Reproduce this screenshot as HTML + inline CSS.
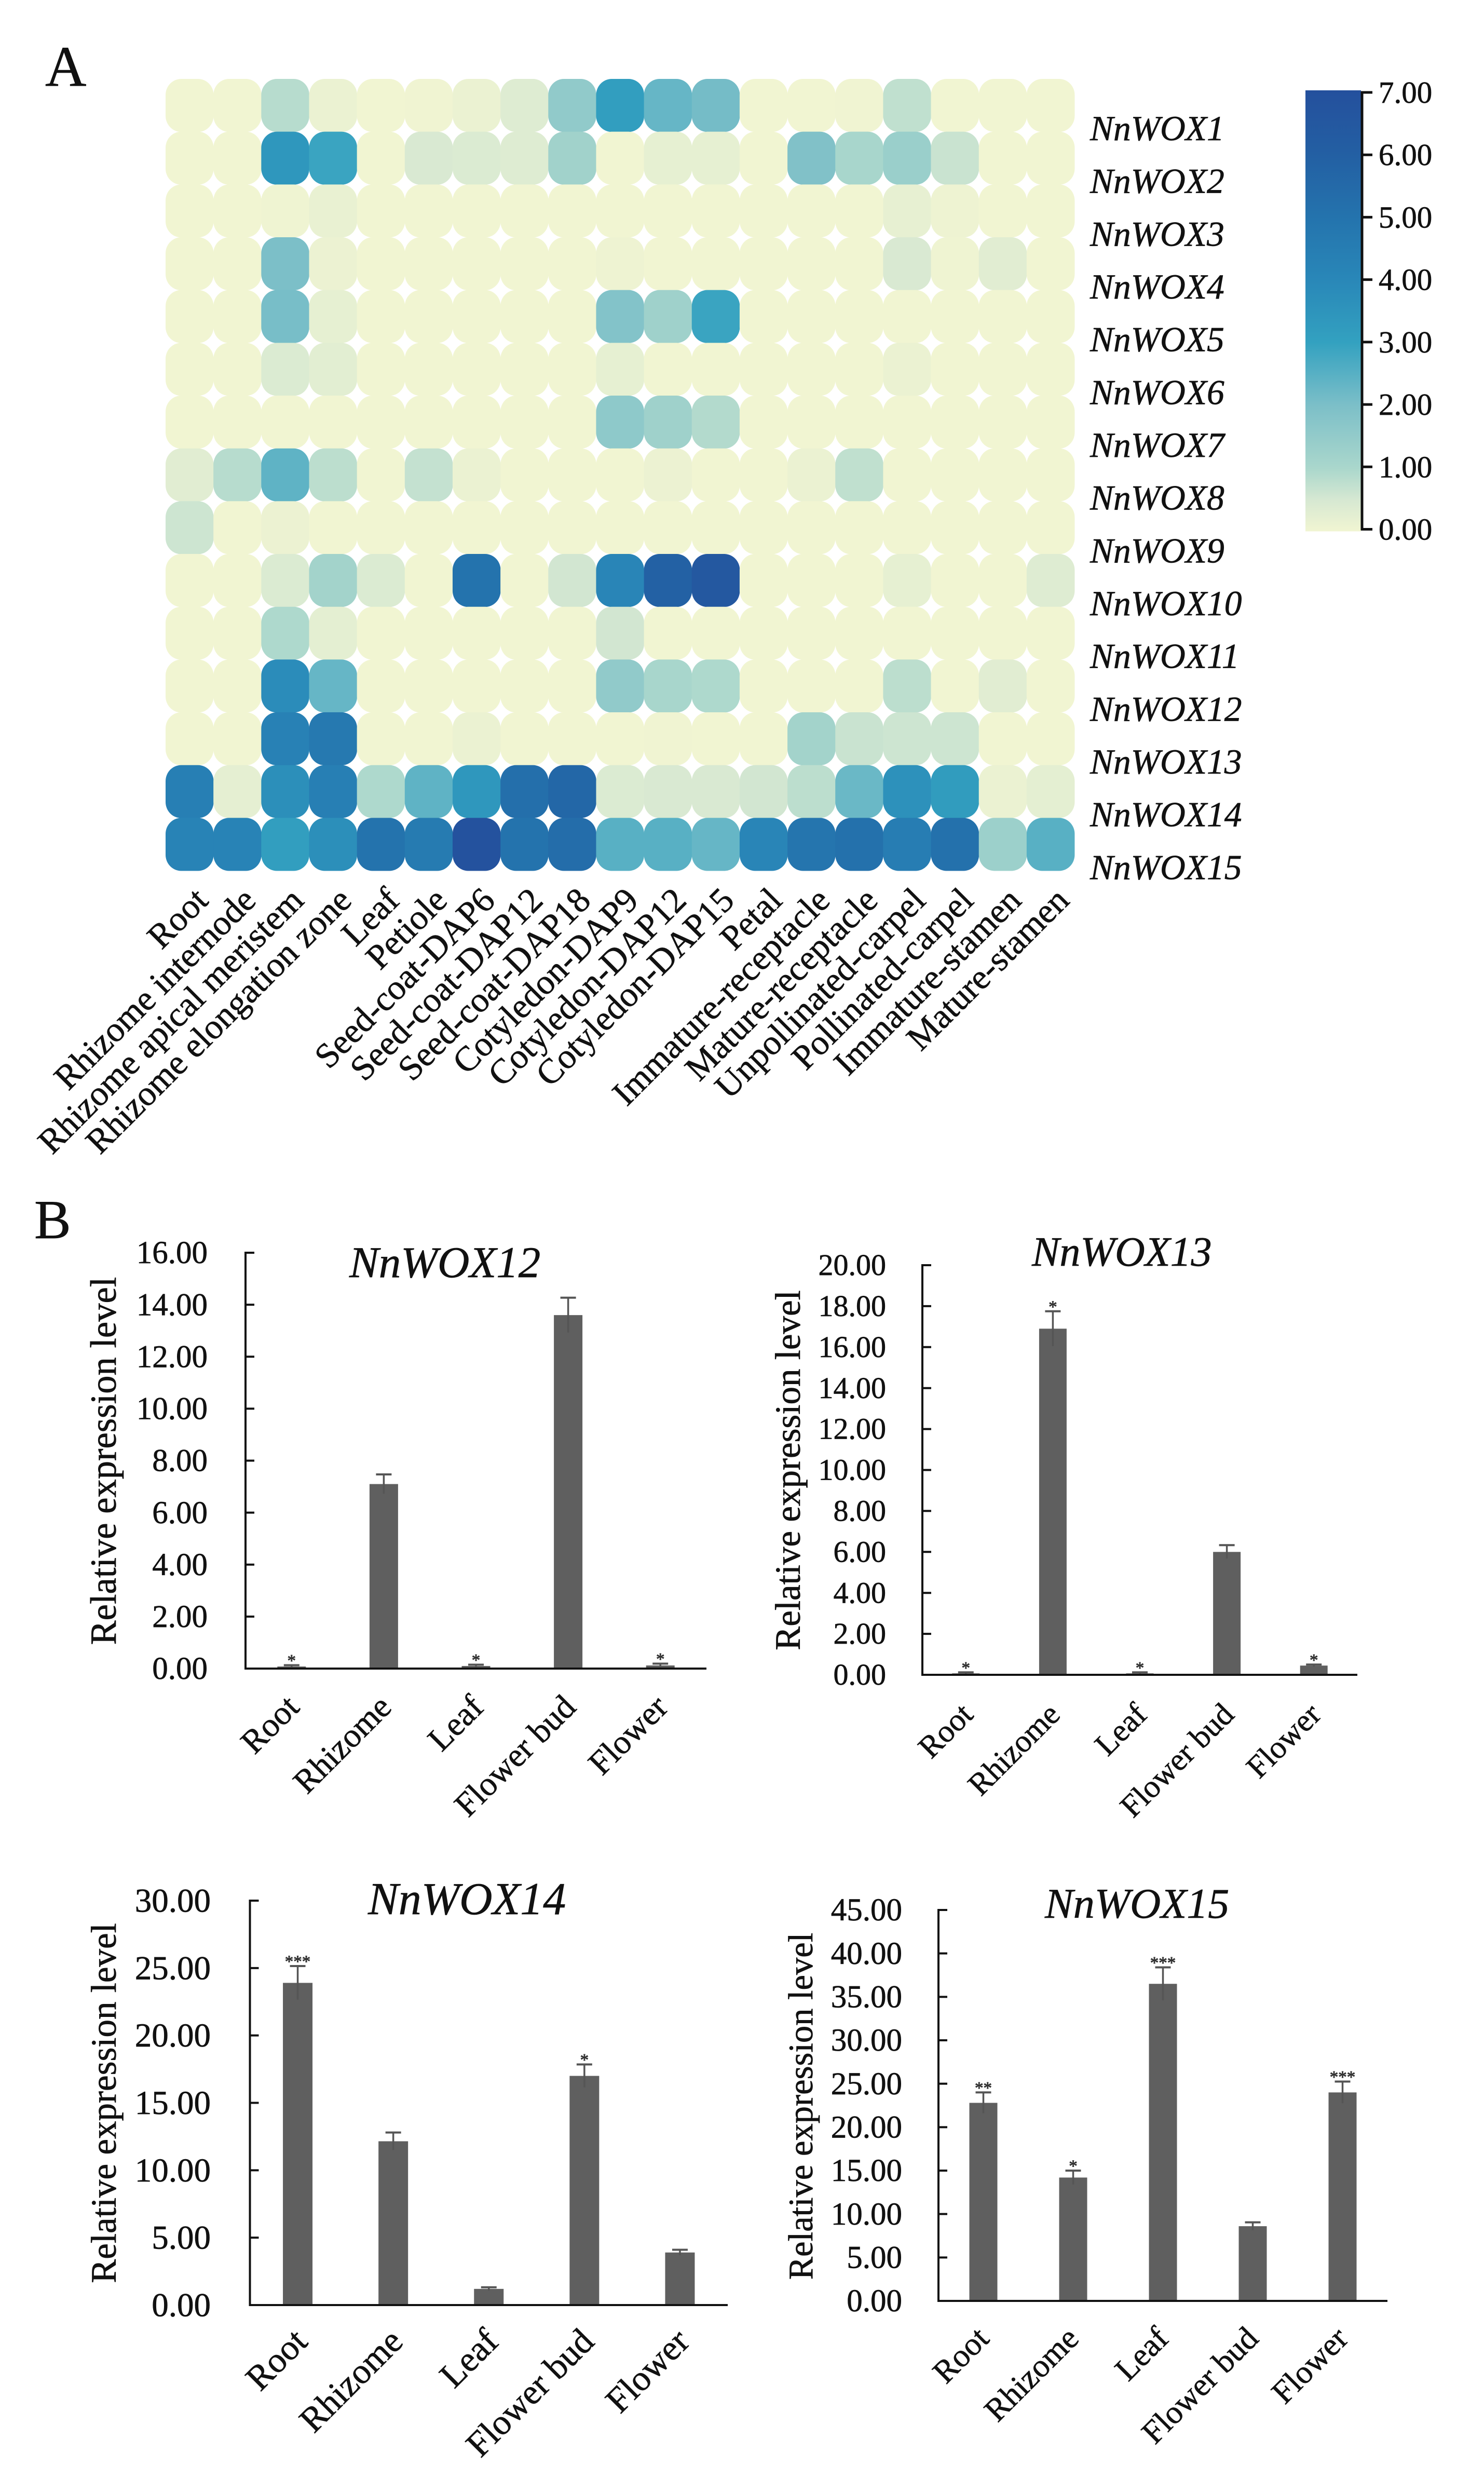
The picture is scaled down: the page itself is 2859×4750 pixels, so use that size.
<!DOCTYPE html>
<html lang="en">
<head>
<meta charset="utf-8">
<title>NnWOX expression heatmap and qPCR charts</title>
<style>
html,body{margin:0;padding:0;background:#fff;}
svg{display:block;}
text{font-family:"Liberation Serif","Times New Roman",serif;fill:#111;stroke:#111;stroke-width:0.7px;}
</style>
</head>
<body>
<svg id="figure" xmlns="http://www.w3.org/2000/svg" width="2859" height="4750" viewBox="0 0 2859 4750">
  <rect x="0" y="0" width="2859" height="4750" fill="#ffffff"/>
  <text x="87" y="165" font-size="110">A</text>
  <text x="66" y="2385" font-size="106">B</text>
  <defs id="defs"></defs>
</svg>
<script>
// ---------- Heatmap data ----------
const tissues = ["Root","Rhizome internode","Rhizome apical meristem","Rhizome elongation zone","Leaf","Petiole","Seed-coat-DAP6","Seed-coat-DAP12","Seed-coat-DAP18","Cotyledon-DAP9","Cotyledon-DAP12","Cotyledon-DAP15","Petal","Immature-receptacle","Mature-receptacle","Unpollinated-carpel","Pollinated-carpel","Immature-stamen","Mature-stamen"];
const genes = ["NnWOX1","NnWOX2","NnWOX3","NnWOX4","NnWOX5","NnWOX6","NnWOX7","NnWOX8","NnWOX9","NnWOX10","NnWOX11","NnWOX12","NnWOX13","NnWOX14","NnWOX15"];
const heatValues = [
  [0,0,0.85,0.12,0,0.02,0.12,0.35,1.55,3.1,2.3,2.1,0,0,0.02,0.75,0,0,0],
  [0,0,3.4,2.9,0,0.45,0.4,0.35,1.2,0,0.2,0.2,0,1.9,1.05,1.35,0.65,0,0],
  [0,0,0.03,0.15,0,0,0,0,0,0,0,0,0,0,0,0.18,0.06,0,0],
  [0,0,2.0,0.1,0,0,0,0,0,0.06,0,0,0,0,0,0.45,0.03,0.3,0],
  [0,0,2.05,0.2,0,0,0,0,0,1.85,1.25,2.9,0,0,0,0,0,0,0],
  [0,0,0.4,0.28,0,0,0,0,0,0.2,0,0,0,0,0,0.12,0,0,0],
  [0,0,0,0,0,0,0,0,0,1.6,1.25,0.9,0,0,0,0,0,0,0],
  [0.3,0.85,2.4,0.8,0,0.7,0.12,0,0,0,0.1,0,0,0.12,0.75,0,0,0,0],
  [0.6,0,0.1,0,0,0,0,0,0,0,0,0,0,0,0,0,0,0,0],
  [0,0,0.4,1.15,0.4,0,5.0,0,0.55,4.1,5.9,6.5,0,0,0,0.2,0,0,0.35],
  [0,0,0.95,0.25,0,0,0,0,0,0.55,0,0,0,0,0,0,0,0,0],
  [0,0,3.8,2.3,0,0,0,0,0,1.55,1.05,0.95,0,0,0,0.8,0,0.3,0],
  [0,0,4.3,4.7,0,0,0.12,0,0,0,0.02,0,0,1.15,0.65,0.6,0.6,0,0],
  [4.4,0.22,3.7,4.4,0.95,2.4,3.4,5.2,5.6,0.4,0.45,0.45,0.55,0.8,2.25,3.6,3.2,0.12,0.25],
  [4.2,4.2,3.1,3.7,5.0,4.6,6.9,5.0,5.3,2.5,2.5,2.3,4.1,4.9,5.1,4.5,5.1,1.3,2.5]
];
const scaleStops = [0,0.5,1,2,3,4,5,6,7];
const scaleColors = ["#f1f5d2","#d6e8d2","#aad7cc","#7cbfc8","#33a1c0","#2987b8","#2473ad","#235fa3","#24509d"];
const scaleTicks = [0,1,2,3,4,5,6,7];
const scaleTickLabels = ["0.00","1.00","2.00","3.00","4.00","5.00","6.00","7.00"];

// ---------- Bar chart data ----------
const barCategories = ["Root","Rhizome","Leaf","Flower bud","Flower"];

const wox12Values = [0.08,7.1,0.1,13.6,0.12];
const wox12Errors = [0.05,0.37,0.05,0.67,0.07];
const wox12Stars = ["*","","*","","*"];
const wox12Ticks = ["0.00","2.00","4.00","6.00","8.00","10.00","12.00","14.00","16.00"];

const wox13Values = [0.07,16.9,0.07,6.0,0.45];
const wox13Errors = [0.05,0.85,0.05,0.33,0.05];
const wox13Stars = ["*","*","*","","*"];
const wox13Ticks = ["0.00","2.00","4.00","6.00","8.00","10.00","12.00","14.00","16.00","18.00","20.00"];

const wox14Values = [23.9,12.15,1.2,17.0,3.9];
const wox14Errors = [1.25,0.65,0.12,0.85,0.2];
const wox14Stars = ["***","","","*",""];
const wox14Ticks = ["0.00","5.00","10.00","15.00","20.00","25.00","30.00"];

const wox15Values = [22.8,14.2,36.5,8.6,24.0];
const wox15Errors = [1.2,0.8,1.9,0.45,1.25];
const wox15Stars = ["**","*","***","","***"];
const wox15Ticks = ["0.00","5.00","10.00","15.00","20.00","25.00","30.00","35.00","40.00","45.00"];

// ---------- Helpers ----------
const NS = "http://www.w3.org/2000/svg";
const root = document.getElementById("figure");
function mk(tag, attrs, parent) {
  const el = document.createElementNS(NS, tag);
  for (const k in attrs) el.setAttribute(k, attrs[k]);
  (parent || root).appendChild(el);
  return el;
}
function hexToRgb(h) {
  return [parseInt(h.slice(1,3),16),parseInt(h.slice(3,5),16),parseInt(h.slice(5,7),16)];
}
function colorFor(v) {
  const t = Math.max(scaleStops[0], Math.min(scaleStops[scaleStops.length-1], v));
  let i = 0;
  while (i < scaleStops.length-2 && t > scaleStops[i+1]) i++;
  const f = (t - scaleStops[i]) / (scaleStops[i+1] - scaleStops[i]);
  const a = hexToRgb(scaleColors[i]), b = hexToRgb(scaleColors[i+1]);
  return "rgb(" + a.map((c,j)=>Math.round(c + (b[j]-c)*f)).join(",") + ")";
}

// ---------- Heatmap ----------
(function drawHeatmap() {
  const left = 319, top = 152, colW = 92.16, rowH = 101.67;
  const xPos = c => left + c * colW;
  const yPos = r => top + r * rowH;
  const g = mk("g", {});
  
  
  heatValues.forEach((row, r) => {
    row.forEach((v, c) => {
      const cell = mk("rect", {x:xPos(c), y:yPos(r), width:colW+0.4, height:rowH+0.4, rx:30, ry:31, fill:colorFor(v)}, g);
      
      
    });
  });
  genes.forEach((name, r) => {
    const t = mk("text", {x:2100, y:yPos(r)+118, "font-size":67.5, "font-style":"italic"});
    t.textContent = name;
    
    
  });
  tissues.forEach((name, c) => {
    const X = xPos(c) + colW/2 + 39, Y = 1738;
    const t = mk("text", {x:X, y:Y, "font-size":67.5, "text-anchor":"end", transform:"rotate(-45 "+X+" "+Y+")"});
    t.textContent = name;
    
    
  });
})();

// ---------- Color scale ----------
(function drawScale() {
  const barX = 2515, barW = 107, yZero = 1019.5, yTop = 178;
  const yOf = v => yZero - (v / 7) * (yZero - yTop);
  const defs = document.getElementById("defs");
  const grad = mk("linearGradient", {id:"scaleGrad", x1:0, y1:1, x2:0, y2:0}, defs);
  scaleStops.forEach((s, i) => {
    mk("stop", {offset:(s/7), "stop-color":scaleColors[i]}, grad);
  });
  const bar = mk("rect", {x:barX, y:yTop-4, width:barW, height:yZero-yTop+8, fill:"url(#scaleGrad)"});
  
  
  const axis = mk("line", {x1:barX+barW+2, x2:barX+barW+2, y1:yTop-2, y2:yZero+2, stroke:"#111", "stroke-width":5});
  
  
  scaleTicks.forEach((v, i) => {
    const y = yOf(v);
    const tick = mk("line", {x1:barX+barW, x2:2644, y1:y, y2:y, stroke:"#111", "stroke-width":5});
    
    
    const t = mk("text", {x:2656, y:y+20, "font-size":59});
    t.textContent = scaleTickLabels[i];
    
    
  });
})();

// ---------- Bar charts ----------
function drawBars(o) {
  const maxV = parseFloat(o.ticks[o.ticks.length-1]);
  const yOf = v => o.y0 - (v / maxV) * (o.y0 - o.y1);
  const step = (o.x1 - o.x0) / o.values.length;
  const xOf = i => o.x0 + step * (i + 0.5);
  const g = mk("g", {});
  
  

  o.values.forEach((v, i) => {
    const cx = xOf(i);
    const bar = mk("rect", {x:cx-o.barW/2, y:yOf(v), width:o.barW, height:o.y0-yOf(v), fill:"#5f5f5f"}, g);
    
    
    const capY = yOf(v + o.errors[i]);
    const lowY = Math.min(yOf(v - o.errors[i]), o.y0);
    const err = mk("line", {x1:cx, x2:cx, y1:capY, y2:lowY, stroke:"#555555", "stroke-width":3.5}, g);
    
    
    const cap = mk("line", {x1:cx-15, x2:cx+15, y1:capY, y2:capY, stroke:"#555555", "stroke-width":4}, g);
    
    
    if (o.stars[i]) {
      const s = mk("text", {x:cx, y:capY+2, "font-size":33, "text-anchor":"middle"}, g);
      s.style.fill = "#333333";
      s.style.stroke = "#333333";
      s.style.strokeWidth = "0.9px";
      s.textContent = o.stars[i];
      
      
    }
  });

  const yAxis = mk("line", {x1:o.x0, x2:o.x0, y1:o.y1-2, y2:o.y0+2, stroke:"#111", "stroke-width":4}, g);
  
  
  const xAxis = mk("line", {x1:o.x0-2, x2:o.x1, y1:o.y0, y2:o.y0, stroke:"#111", "stroke-width":4}, g);
  
  

  o.ticks.forEach(label => {
    const y = yOf(parseFloat(label));
    const tick = mk("line", {x1:o.x0, x2:o.x0+17, y1:y, y2:y, stroke:"#111", "stroke-width":4}, g);
    
    
    const t = mk("text", {x:o.labelRight, y:y+o.tickFont*0.33, "font-size":o.tickFont, "text-anchor":"end"}, g);
    t.textContent = label;
    
    
  });

  barCategories.forEach((name, i) => {
    const X = xOf(i) + o.catShift, Y = o.y0 + o.catDrop;
    const t = mk("text", {x:X, y:Y, "font-size":o.catFont, "text-anchor":"end", transform:"rotate(-45 "+X+" "+Y+")"}, g);
    t.textContent = name;
    
    
  });

  const yt = mk("text", {x:o.yTitleX, y:o.yTitleY, "font-size":o.yTitleFont, "text-anchor":"middle", transform:"rotate(-90 "+o.yTitleX+" "+o.yTitleY+")"}, g);
  yt.textContent = "Relative expression level";
  
  

  const title = mk("text", {x:o.titleX, y:o.titleY, "font-size":o.titleFont, "font-style":"italic"}, g);
  title.textContent = o.title;
  
  
}

drawBars({name:"chart-nnwox12", title:"NnWOX12", values:wox12Values, errors:wox12Errors, stars:wox12Stars, ticks:wox12Ticks,
  x0:473, x1:1361, y0:3214, y1:2413, barW:55, labelRight:400, tickFont:61, catFont:65, catShift:18, catDrop:78,
  yTitleX:223, yTitleY:2814, yTitleFont:70.5, titleX:673, titleY:2460, titleFont:85});
drawBars({name:"chart-nnwox13", title:"NnWOX13", values:wox13Values, errors:wox13Errors, stars:wox13Stars, ticks:wox13Ticks,
  x0:1777, x1:2615, y0:3226, y1:2437, barW:53, labelRight:1707, tickFont:58, catFont:61, catShift:17, catDrop:80,
  yTitleX:1541, yTitleY:2832, yTitleFont:69, titleX:1988, titleY:2438, titleFont:80});
drawBars({name:"chart-nnwox14", title:"NnWOX14", values:wox14Values, errors:wox14Errors, stars:wox14Stars, ticks:wox14Ticks,
  x0:481.5, x1:1402, y0:4440, y1:3661, barW:57, labelRight:406, tickFont:65, catFont:68.5, catShift:22, catDrop:74,
  yTitleX:223, yTitleY:4051, yTitleFont:69, titleX:709, titleY:3687, titleFont:88});
drawBars({name:"chart-nnwox15", title:"NnWOX15", values:wox15Values, errors:wox15Errors, stars:wox15Stars, ticks:wox15Ticks,
  x0:1808, x1:2673, y0:4432, y1:3679, barW:54, labelRight:1738, tickFont:61, catFont:62.5, catShift:14, catDrop:76,
  yTitleX:1565, yTitleY:4057, yTitleFont:66.5, titleX:2013, titleY:3694, titleFont:82});
</script>
</body>
</html>
